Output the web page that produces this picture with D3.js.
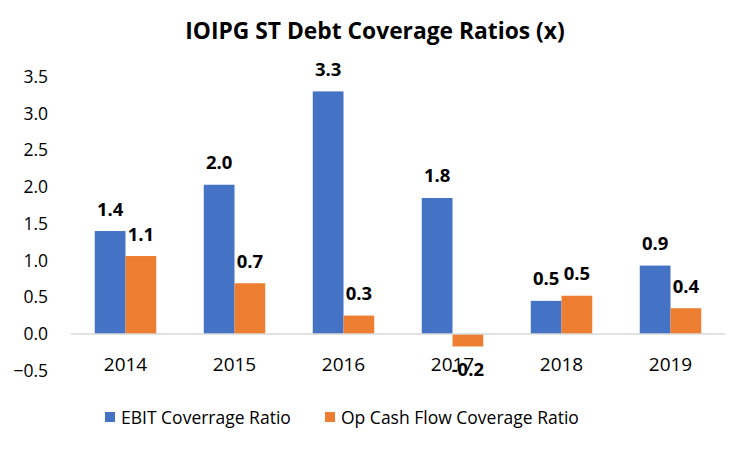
<!DOCTYPE html>
<html><head><meta charset="utf-8">
<script src="https://cdn.jsdelivr.net/npm/d3@7"></script>
<style>body{margin:0;background:#fff;} svg{display:block;font-family:"Open Sans", sans-serif;}</style>
</head><body>
<script>
const years = ["2014","2015","2016","2017","2018","2019"];
const ebit = [1.4, 2.03, 3.3, 1.85, 0.45, 0.93];
const opcf = [1.06, 0.69, 0.25, -0.17, 0.52, 0.35];
const ebitLabels = ["1.4","2.0","3.3","1.8","0.5","0.9"];
const opcfLabels = ["1.1","0.7","0.3","-0.2","0.5","0.4"];
const yTicks = [-0.5,0,0.5,1,1.5,2,2.5,3,3.5];
const seriesNames = ["EBIT Coverrage Ratio","Op Cash Flow Coverage Ratio"];
const colors = ["#4472C4","#ED7D31"];

const W=748,H=449;
const svg=d3.select("body").append("svg").attr("width",W).attr("height",H);
const x=d3.scaleBand().domain(years).range([71,725]).paddingInner(0.436).paddingOuter(0.218);
const xs=d3.scaleBand().domain([0,1]).range([0,x.bandwidth()]);
const y=d3.scaleLinear().domain([-0.5,3.5]).range([370.7,76.7]);

svg.append("text").attr("x",375).attr("y",39).attr("text-anchor","middle")
  .attr("font-size",22.8).attr("font-weight","bold").attr("fill","#000").text("IOIPG ST Debt Coverage Ratios (x)");

const yAxis=d3.axisLeft(y).tickValues(yTicks).tickFormat(d3.format(".1f")).tickSize(0).tickPadding(0);
const ga=svg.append("g").attr("transform","translate(48,0)").call(yAxis);
ga.select(".domain").remove();
ga.selectAll("text").attr("font-size",17.5).attr("font-family","'Open Sans', sans-serif").attr("fill","#000");

const data=years.map((yr,i)=>({yr,vals:[ebit[i],opcf[i]],labs:[ebitLabels[i],opcfLabels[i]]}));
const g=svg.selectAll(".grp").data(data).enter().append("g").attr("transform",d=>`translate(${x(d.yr)},0)`);
[0,1].forEach(s=>{
  g.append("rect").attr("x",xs(s)).attr("width",xs.bandwidth())
    .attr("y",d=>y(Math.max(0,d.vals[s]))).attr("height",d=>Math.abs(y(d.vals[s])-y(0)))
    .attr("fill",colors[s]);
  g.append("text").attr("x",xs(s)+xs.bandwidth()/2)
    .attr("y",d=>d.vals[s]>=0?y(d.vals[s])-15.5:y(d.vals[s])+29.5)
    .attr("text-anchor","middle").attr("font-size",18.5).attr("font-weight","bold").attr("fill","#000")
    .text(d=>d.labs[s]);
});

svg.append("line").attr("x1",71).attr("x2",725).attr("y1",y(0)).attr("y2",y(0)).attr("stroke","#d9d9d9").attr("stroke-width",1.5);

const xAxis=d3.axisBottom(x).tickSize(0).tickPadding(0);
const gx=svg.append("g").attr("transform","translate(0,357)").call(xAxis);
gx.select(".domain").remove();
gx.selectAll("text").attr("font-size",19).attr("font-family","'Open Sans', sans-serif").attr("fill","#000").attr("dy","0.71em");

const legX=[105,325];
seriesNames.forEach((n,i)=>{
  svg.append("rect").attr("x",legX[i]).attr("y",412).attr("width",10).attr("height",10).attr("fill",colors[i]);
  svg.append("text").attr("x",legX[i]+16).attr("y",423.5).attr("font-size",17.5).attr("fill","#000").text(n);
});
</script>
</body></html>
